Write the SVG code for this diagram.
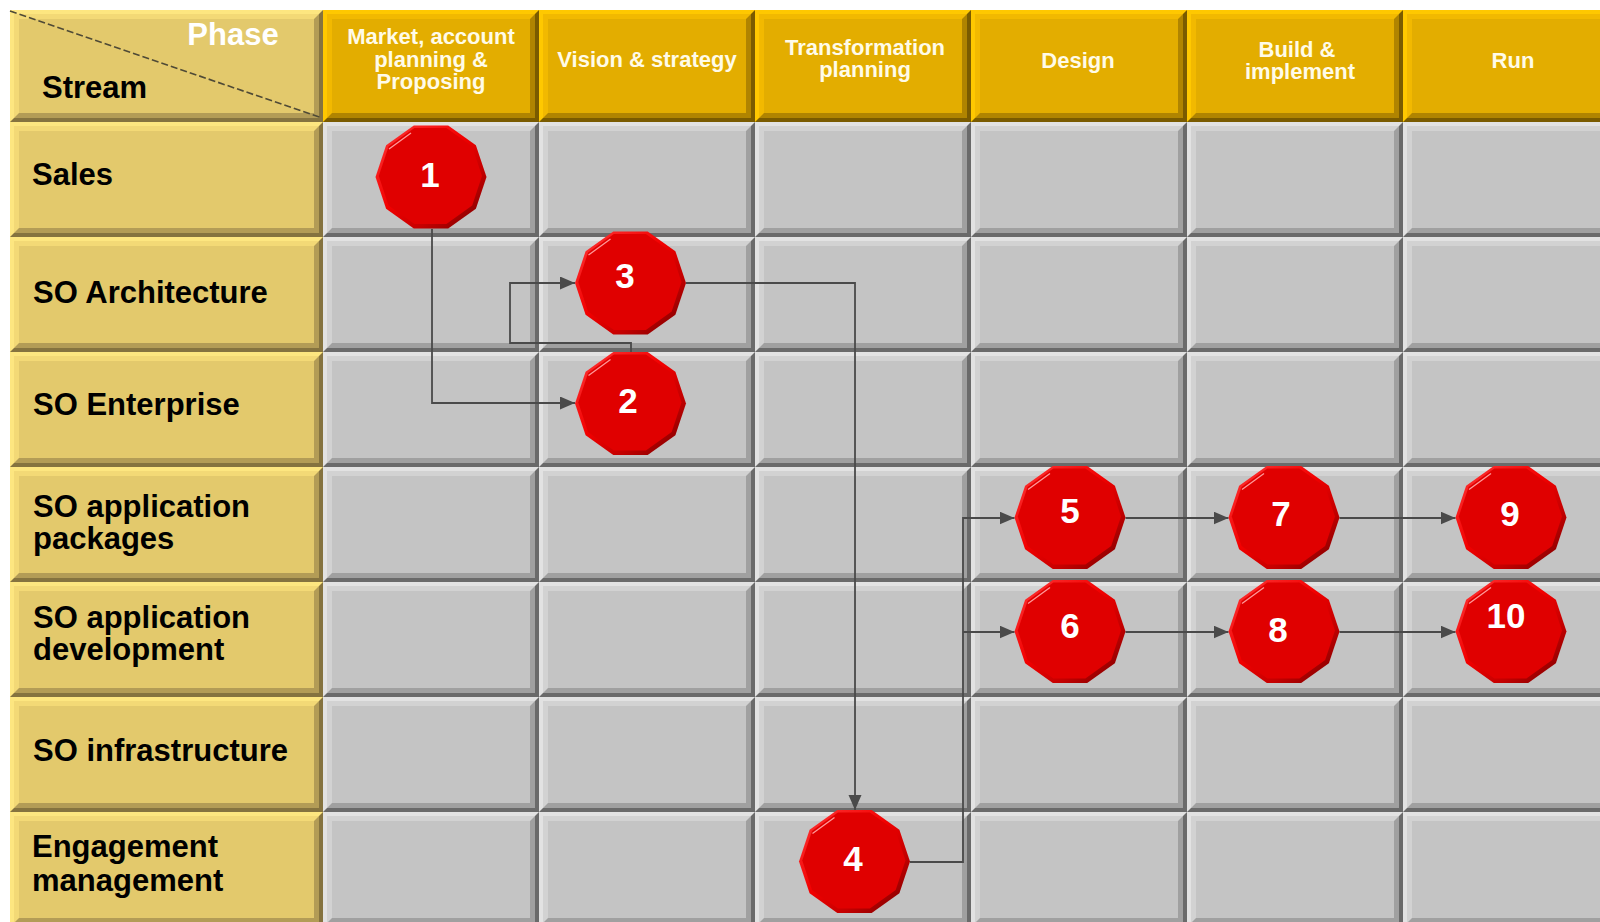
<svg xmlns="http://www.w3.org/2000/svg" xmlns:xlink="http://www.w3.org/1999/xlink" width="1600" height="922" viewBox="0 0 1600 922">
<style>
.lab{font-family:"Liberation Sans",Arial,sans-serif;font-weight:bold;font-size:31px;fill:#000}
.hd{font-family:"Liberation Sans",Arial,sans-serif;font-weight:bold;font-size:22px;fill:#fffbe8;text-anchor:middle}
.num{font-family:"Liberation Sans",Arial,sans-serif;font-weight:bold;font-size:35px;fill:#fff;text-anchor:middle}
.conn{fill:none;stroke:#4a4a4a;stroke-width:1.8}
</style>
<defs>
<marker id="arr" markerUnits="userSpaceOnUse" markerWidth="16" markerHeight="14" refX="15" refY="6.5" orient="auto">
<path d="M0,0 L15,6.5 L0,13 Z" fill="#4a4a4a"/>
</marker>
<linearGradient id="redG" x1="0" y1="0" x2="1" y2="1">
<stop offset="0" stop-color="#ff3a3a"/>
<stop offset="0.45" stop-color="#f20000"/>
<stop offset="0.7" stop-color="#c40000"/>
<stop offset="1" stop-color="#700000"/>
</linearGradient>
<g id="gcell">
<rect width="216" height="115" fill="#e2e2e2"/>
<rect x="4" y="4" width="208" height="107" fill="#d2d2d2"/>
<polygon points="216,0 216,115 0,115 4,111 212,111 212,4" fill="#6a6a6a"/>
<polygon points="212,4 212,111 4,111 9,106 207,106 207,9" fill="#a0a0a0"/>
<rect x="9" y="9" width="198" height="97" fill="#c4c4c4"/>
</g>
<g id="ycell">
<rect width="313" height="115" fill="#fde680"/>
<rect x="4" y="4" width="305" height="107" fill="#f3d976"/>
<polygon points="313,0 313,115 0,115 4,111 309,111 309,4" fill="#85733f"/>
<polygon points="309,4 309,111 4,111 9,106 304,106 304,9" fill="#b39c56"/>
<rect x="9" y="9" width="295" height="97" fill="#e3c96c"/>
</g>
<g id="ycellh">
<rect width="313" height="112" fill="#fde680"/>
<rect x="4" y="4" width="305" height="104" fill="#f3d976"/>
<polygon points="313,0 313,112 0,112 4,108 309,108 309,4" fill="#85733f"/>
<polygon points="309,4 309,108 4,108 9,103 304,103 304,9" fill="#b39c56"/>
<rect x="9" y="9" width="295" height="94" fill="#e3c96c"/>
</g>
<g id="hcell">
<rect width="216" height="112" fill="#ffc800"/>
<rect x="4" y="4" width="208" height="104" fill="#f2b900"/>
<polygon points="216,0 216,112 0,112 4,108 212,108 212,4" fill="#7a5b00"/>
<polygon points="212,4 212,108 4,108 9,103 207,103 207,9" fill="#b08400"/>
<rect x="9" y="9" width="198" height="94" fill="#e3ad00"/>
</g>
<g id="dec">
<polygon points="55.5,0 44.9,31.8 17.2,51.5 -17.2,51.5 -44.9,31.8 -55.5,0 -44.9,-31.8 -17.2,-51.5 17.2,-51.5 44.9,-31.8" fill="url(#redG)"/>
<polygon transform="translate(-0.6,-1)" points="51.6,0 41.8,29.6 16,47.9 -16,47.9 -41.8,29.6 -51.6,0 -41.8,-29.6 -16,-47.9 16,-47.9 41.8,-29.6" fill="#e00000"/>
<line x1="-42" y1="-28" x2="-20" y2="-44" stroke="#ff9a9a" stroke-width="1.2"/>
</g>
</defs>
<rect width="1600" height="922" fill="#ffffff"/>
<rect x="10" y="10" width="1590" height="912" fill="#a8a8a8"/>

<g id="grid">
<use xlink:href="#gcell" x="323" y="122"/><use xlink:href="#gcell" x="539" y="122"/><use xlink:href="#gcell" x="755" y="122"/><use xlink:href="#gcell" x="971" y="122"/><use xlink:href="#gcell" x="1187" y="122"/><use xlink:href="#gcell" x="1403" y="122"/>
<use xlink:href="#gcell" x="323" y="237"/><use xlink:href="#gcell" x="539" y="237"/><use xlink:href="#gcell" x="755" y="237"/><use xlink:href="#gcell" x="971" y="237"/><use xlink:href="#gcell" x="1187" y="237"/><use xlink:href="#gcell" x="1403" y="237"/>
<use xlink:href="#gcell" x="323" y="352"/><use xlink:href="#gcell" x="539" y="352"/><use xlink:href="#gcell" x="755" y="352"/><use xlink:href="#gcell" x="971" y="352"/><use xlink:href="#gcell" x="1187" y="352"/><use xlink:href="#gcell" x="1403" y="352"/>
<use xlink:href="#gcell" x="323" y="467"/><use xlink:href="#gcell" x="539" y="467"/><use xlink:href="#gcell" x="755" y="467"/><use xlink:href="#gcell" x="971" y="467"/><use xlink:href="#gcell" x="1187" y="467"/><use xlink:href="#gcell" x="1403" y="467"/>
<use xlink:href="#gcell" x="323" y="582"/><use xlink:href="#gcell" x="539" y="582"/><use xlink:href="#gcell" x="755" y="582"/><use xlink:href="#gcell" x="971" y="582"/><use xlink:href="#gcell" x="1187" y="582"/><use xlink:href="#gcell" x="1403" y="582"/>
<use xlink:href="#gcell" x="323" y="697"/><use xlink:href="#gcell" x="539" y="697"/><use xlink:href="#gcell" x="755" y="697"/><use xlink:href="#gcell" x="971" y="697"/><use xlink:href="#gcell" x="1187" y="697"/><use xlink:href="#gcell" x="1403" y="697"/>
<use xlink:href="#gcell" x="323" y="812"/><use xlink:href="#gcell" x="539" y="812"/><use xlink:href="#gcell" x="755" y="812"/><use xlink:href="#gcell" x="971" y="812"/><use xlink:href="#gcell" x="1187" y="812"/><use xlink:href="#gcell" x="1403" y="812"/>
</g>

<g id="corner-header">
<use xlink:href="#ycellh" x="10" y="10"/>
<line x1="10" y1="11" x2="322" y2="118" stroke="#4f4a36" stroke-width="1.6" stroke-dasharray="7 3"/>
<text x="233" y="45" font-family="Liberation Sans, Arial, sans-serif" font-weight="bold" font-size="31" fill="#ffffff" text-anchor="middle">Phase</text>
<text class="lab" x="42" y="98">Stream</text>
</g>

<g id="phase-1"><use xlink:href="#hcell" x="323" y="10"/><text class="hd" x="431" y="44">Market, account</text><text class="hd" x="431" y="67">planning &amp;</text><text class="hd" x="431" y="89">Proposing</text></g>
<g id="phase-2"><use xlink:href="#hcell" x="539" y="10"/><text class="hd" x="647" y="67">Vision &amp; strategy</text></g>
<g id="phase-3"><use xlink:href="#hcell" x="755" y="10"/><text class="hd" x="865" y="55">Transformation</text><text class="hd" x="865" y="77">planning</text></g>
<g id="phase-4"><use xlink:href="#hcell" x="971" y="10"/><text class="hd" x="1078" y="68">Design</text></g>
<g id="phase-5"><use xlink:href="#hcell" x="1187" y="10"/><text class="hd" x="1297" y="57">Build &amp;</text><text class="hd" x="1300" y="79">implement</text></g>
<g id="phase-6"><use xlink:href="#hcell" x="1403" y="10"/><text class="hd" x="1513" y="68">Run</text></g>

<g id="stream-sales"><use xlink:href="#ycell" x="10" y="122"/><text class="lab" x="32" y="185">Sales</text></g>
<g id="stream-so-architecture"><use xlink:href="#ycell" x="10" y="237"/><text class="lab" x="33" y="303">SO Architecture</text></g>
<g id="stream-so-enterprise"><use xlink:href="#ycell" x="10" y="352"/><text class="lab" x="33" y="415">SO Enterprise</text></g>
<g id="stream-so-app-packages"><use xlink:href="#ycell" x="10" y="467"/><text class="lab" x="33" y="517">SO application</text><text class="lab" x="33" y="549">packages</text></g>
<g id="stream-so-app-development"><use xlink:href="#ycell" x="10" y="582"/><text class="lab" x="33" y="628">SO application</text><text class="lab" x="33" y="660">development</text></g>
<g id="stream-so-infrastructure"><use xlink:href="#ycell" x="10" y="697"/><text class="lab" x="33" y="761">SO infrastructure</text></g>
<g id="stream-engagement"><use xlink:href="#ycell" x="10" y="812"/><text class="lab" x="32" y="857">Engagement</text><text class="lab" x="32" y="891">management</text></g>

<g id="connectors">
<path class="conn" d="M432,229 V403 H575" marker-end="url(#arr)"/>
<path class="conn" d="M631,352 V343 H510 V283 H575" marker-end="url(#arr)"/>
<path class="conn" d="M686,283 H855 V810" marker-end="url(#arr)"/>
<path class="conn" d="M910,862 H963 V518 H1014.5" marker-end="url(#arr)"/>
<path class="conn" d="M963,632 H1014.5" marker-end="url(#arr)"/>
<path class="conn" d="M1125.5,518 H1228.5" marker-end="url(#arr)"/>
<path class="conn" d="M1339.5,518 H1455.5" marker-end="url(#arr)"/>
<path class="conn" d="M1125.5,632 H1228.5" marker-end="url(#arr)"/>
<path class="conn" d="M1339.5,632 H1455.5" marker-end="url(#arr)"/>
</g>

<g id="node-1"><use xlink:href="#dec" x="431" y="177"/><text class="num" x="430" y="187">1</text></g>
<g id="node-2"><use xlink:href="#dec" x="630.5" y="403.5"/><text class="num" x="628" y="413">2</text></g>
<g id="node-3"><use xlink:href="#dec" x="630.5" y="283"/><text class="num" x="625" y="288">3</text></g>
<g id="node-4"><use xlink:href="#dec" x="854.5" y="861.5"/><text class="num" x="853" y="871">4</text></g>
<g id="node-5"><use xlink:href="#dec" x="1070" y="517.5"/><text class="num" x="1070" y="523">5</text></g>
<g id="node-6"><use xlink:href="#dec" x="1070" y="631.5"/><text class="num" x="1070" y="638">6</text></g>
<g id="node-7"><use xlink:href="#dec" x="1284" y="517.5"/><text class="num" x="1281" y="526">7</text></g>
<g id="node-8"><use xlink:href="#dec" x="1284" y="631.5"/><text class="num" x="1278" y="642">8</text></g>
<g id="node-9"><use xlink:href="#dec" x="1511" y="517.5"/><text class="num" x="1510" y="526">9</text></g>
<g id="node-10"><use xlink:href="#dec" x="1511" y="631.5"/><text class="num" x="1506" y="628">10</text></g>
</svg>
